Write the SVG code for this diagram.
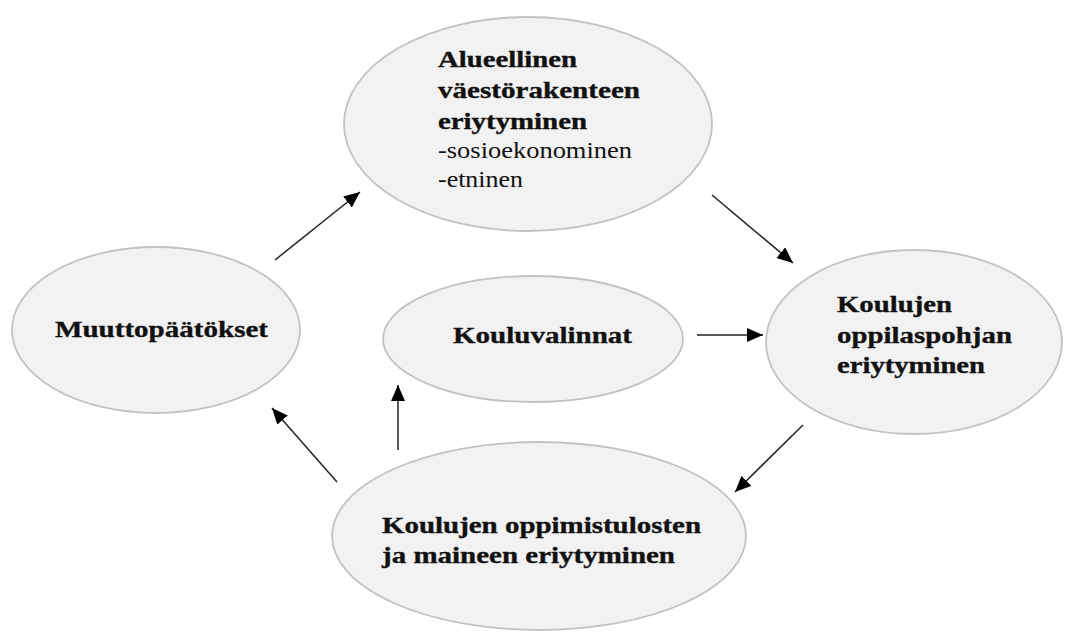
<svg xmlns="http://www.w3.org/2000/svg" width="1070" height="634" viewBox="0 0 1070 634">
<style>
.node ellipse{fill:#f2f2f2;stroke:#c2c2c2;stroke-width:1.8}
.b{font-family:"Liberation Serif","Times New Roman",serif;font-weight:bold;font-size:24px;fill:#111;stroke:#111;stroke-width:0.35}
.n{font-family:"Liberation Serif","Times New Roman",serif;font-size:23px;fill:#111}
.conn line{stroke:#222;stroke-width:1.5;marker-end:url(#ah)}
</style>
<defs>
<marker id="ah" markerUnits="userSpaceOnUse" markerWidth="18" markerHeight="14" refX="16" refY="7" orient="auto">
<path d="M0,0 L16,7 L0,14 Z" fill="#000"/>
</marker>
</defs>
<rect width="1070" height="634" fill="#fff"/>
<g id="n-alueellinen" class="node">
<ellipse cx="528" cy="124" rx="184" ry="107"/>
<text class="b" transform="translate(438,67) scale(1.25,1)" textLength="111.2" lengthAdjust="spacingAndGlyphs">Alueellinen</text>
<text class="b" transform="translate(438,98) scale(1.25,1)" textLength="161.6" lengthAdjust="spacingAndGlyphs">väestörakenteen</text>
<text class="b" transform="translate(438,129) scale(1.25,1)" textLength="119.2" lengthAdjust="spacingAndGlyphs">eriytyminen</text>
<text class="n" transform="translate(438,158) scale(1.15,1)" textLength="168.7" lengthAdjust="spacingAndGlyphs">-sosioekonominen</text>
<text class="n" transform="translate(438,187) scale(1.15,1)" textLength="73.9" lengthAdjust="spacingAndGlyphs">-etninen</text>
</g>
<g id="n-muutto" class="node">
<ellipse cx="156" cy="330" rx="144" ry="83"/>
<text class="b" transform="translate(55,337) scale(1.25,1)" textLength="170.4" lengthAdjust="spacingAndGlyphs">Muuttopäätökset</text>
</g>
<g id="n-kouluvalinnat" class="node">
<ellipse cx="533" cy="339" rx="150" ry="63"/>
<text class="b" transform="translate(453,343) scale(1.25,1)" textLength="143.2" lengthAdjust="spacingAndGlyphs">Kouluvalinnat</text>
</g>
<g id="n-oppilaspohja" class="node">
<ellipse cx="914" cy="342" rx="148" ry="92"/>
<text class="b" transform="translate(837,312) scale(1.25,1)" textLength="92" lengthAdjust="spacingAndGlyphs">Koulujen</text>
<text class="b" transform="translate(837,343) scale(1.25,1)" textLength="140" lengthAdjust="spacingAndGlyphs">oppilaspohjan</text>
<text class="b" transform="translate(837,373) scale(1.25,1)" textLength="118.4" lengthAdjust="spacingAndGlyphs">eriytyminen</text>
</g>
<g id="n-oppimistulokset" class="node">
<ellipse cx="539" cy="536" rx="207" ry="94"/>
<text class="b" transform="translate(382,533) scale(1.25,1)" textLength="255.2" lengthAdjust="spacingAndGlyphs">Koulujen oppimistulosten</text>
<text class="b" transform="translate(382,563) scale(1.25,1)" textLength="234.4" lengthAdjust="spacingAndGlyphs">ja maineen eriytyminen</text>
</g>
<g id="connectors" class="conn">
<line x1="275" y1="260" x2="360" y2="192"/>
<line x1="712" y1="195" x2="793" y2="263"/>
<line x1="697" y1="335" x2="763" y2="335"/>
<line x1="803" y1="425" x2="735" y2="492"/>
<line x1="337" y1="482" x2="272" y2="408"/>
<line x1="398" y1="450" x2="398" y2="385"/>
</g>
</svg>
